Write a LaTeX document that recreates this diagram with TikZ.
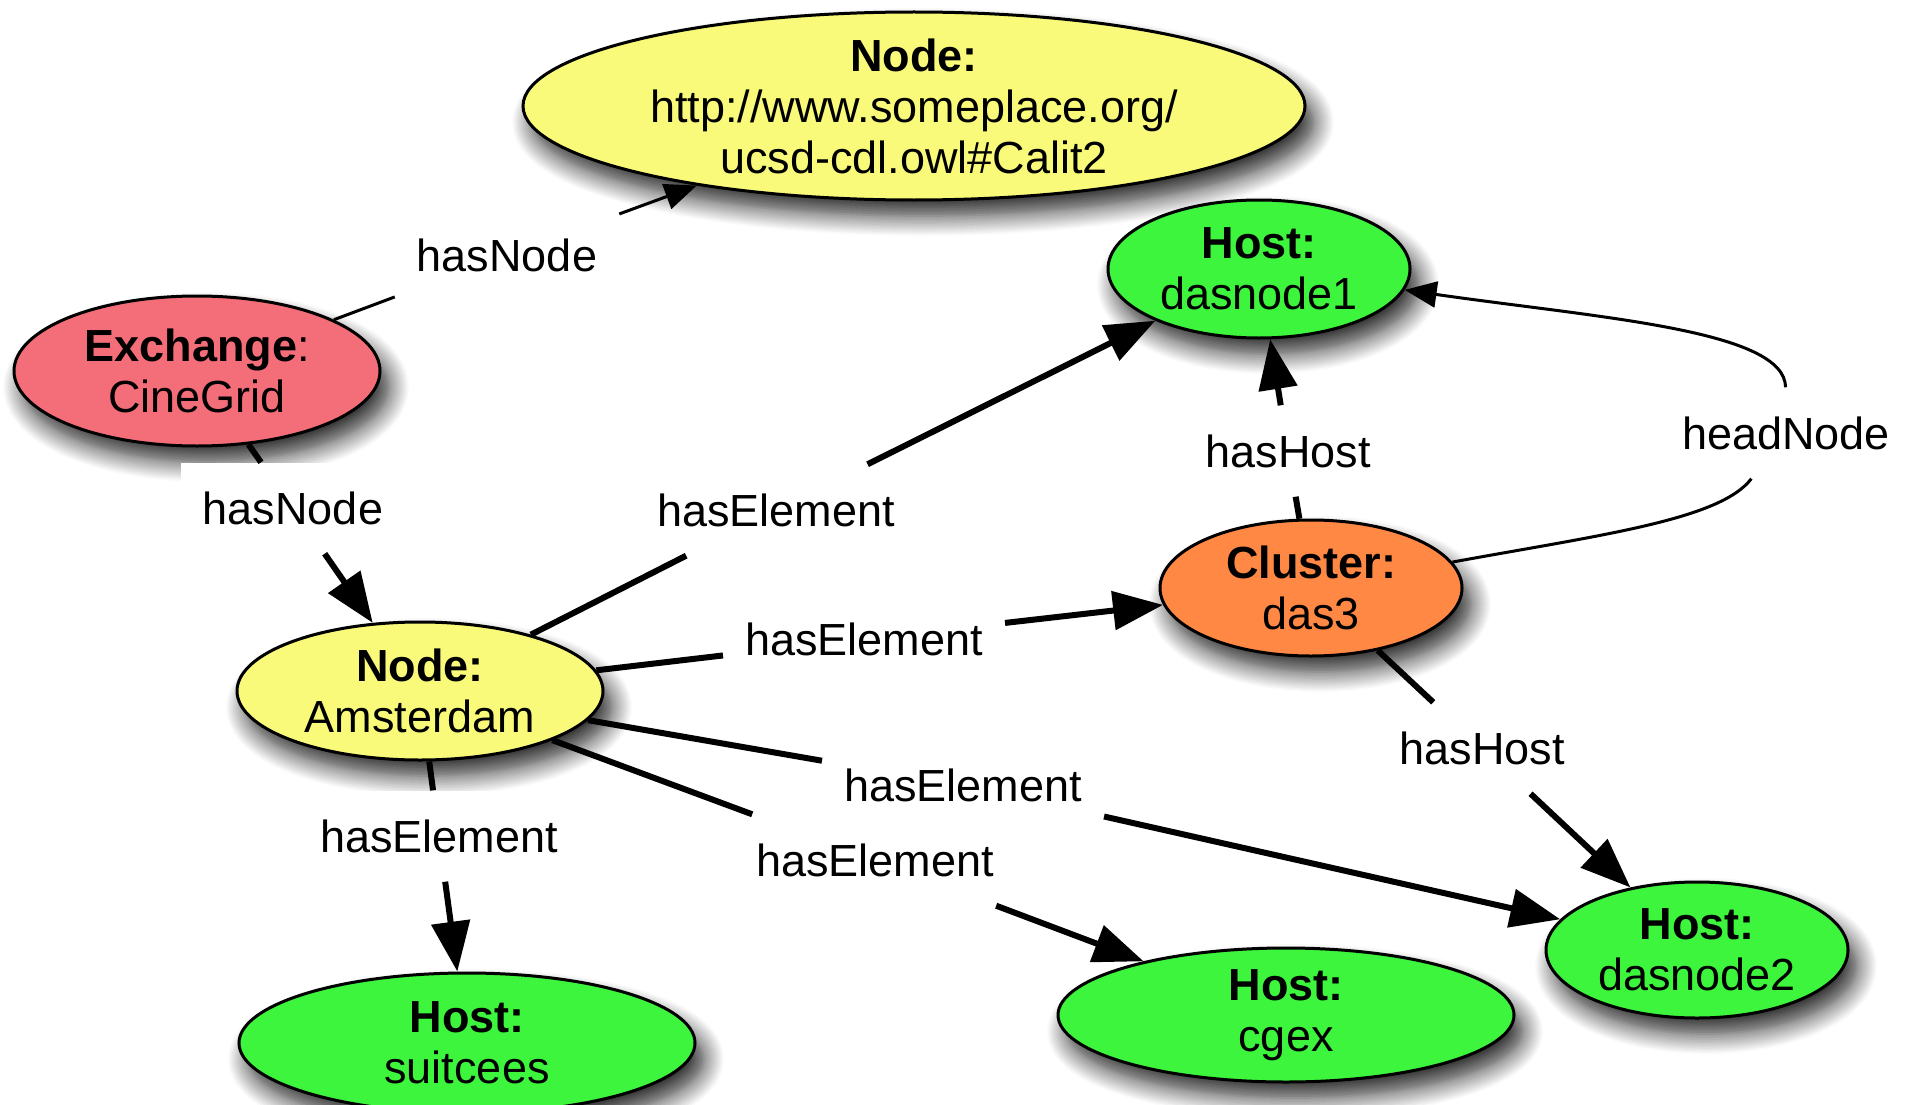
\documentclass[tikz,border=0pt]{standalone}
\usepackage{fontspec}
\setmainfont{Liberation Sans}
\usetikzlibrary{shapes.geometric,arrows.meta,shadows.blur}
\definecolor{yelF}{RGB}{250,250,122}
\definecolor{grnF}{RGB}{60,245,60}
\definecolor{pnkF}{RGB}{244,110,122}
\definecolor{orgF}{RGB}{255,136,68}
\begin{document}
\begin{tikzpicture}[x=1pt,y=-1pt,
  font=\fontsize{45pt}{51pt}\selectfont,
  ellnode/.style={ellipse, draw=black, line width=3pt, inner sep=0pt,
    blur shadow={shadow xshift=9pt, shadow yshift=-16pt, shadow blur radius=20pt, shadow blur steps=12, shadow opacity=85}},
  ntext/.style={align=center, inner sep=0pt},
  lbl/.style={fill=white, inner xsep=22pt, inner ysep=29pt, text height=33pt, text depth=0pt},
  ethick/.style={line width=6pt, draw=black},
  ethin/.style={line width=3pt, draw=black},
  bigarr/.style={-{Triangle[length=50pt,width=38pt]}},
  smallarr/.style={-{Triangle[length=32pt,width=26pt]}}
]
\useasboundingbox (0,0) rectangle (1905,1105);
\clip (0,0) rectangle (1905,1105);

% nodes
\node[ellnode, fill=yelF, minimum width=782pt, minimum height=188pt] (top) at (914,106) {};
\node[ntext] (topT) at (top.center) {\textbf{Node:}\\http://www.someplace.org/\\ucsd-cdl.owl\#Calit2};

\node[ellnode, fill=pnkF, minimum width=366pt, minimum height=150pt] (exc) at (197,371) {};
\node[ntext] (excT) at (exc.center) {\textbf{Exchange}:\\CineGrid};

\node[ellnode, fill=grnF, minimum width=302pt, minimum height=138pt] (d1) at (1259,269) {};
\node[ntext] (d1T) at (d1.center) {\textbf{Host:}\\dasnode1};

\node[ellnode, fill=orgF, minimum width=302pt, minimum height=136pt] (clu) at (1311,588) {};
\node[ntext] (cluT) at (clu.center) {\textbf{Cluster:}\\das3};

\node[ellnode, fill=yelF, minimum width=366pt, minimum height=138pt] (ams) at (420,691) {};
\node[ntext] (amsT) at (ams.center) {\textbf{Node:}\\Amsterdam};

\node[ellnode, fill=grnF, minimum width=456pt, minimum height=140pt] (sui) at (467,1043) {};
\node[ntext] (suiT) at (sui.center) {\textbf{Host:}\\suitcees};

\node[ellnode, fill=grnF, minimum width=456pt, minimum height=134pt] (cgx) at (1286,1015) {};
\node[ntext] (cgxT) at (cgx.center) {\textbf{Host:}\\cgex};

\node[ellnode, fill=grnF, minimum width=302pt, minimum height=136pt] (d2) at (1697,950) {};
\node[ntext] (d2T) at (d2.center) {\textbf{Host:}\\dasnode2};

% labels
\node[lbl] (l1) at (507,255) {hasNode};
\node[lbl] (l2) at (293,508) {hasNode};
\node[lbl] (l3) at (776,510) {hasElement};
\node[lbl] (l4) at (1288,451) {hasHost};
\node[lbl] (l5) at (1786,433) {headNode};
\node[lbl] (l6) at (864,639) {hasElement};
\node[lbl] (l7) at (1482,748) {hasHost};
\node[lbl] (l8) at (963,785) {hasElement};
\node[lbl] (l9) at (439,836) {hasElement};
\node[lbl] (l10) at (875,860) {hasElement};

% edges
\draw[ethin] (exc) -- (l1);
\draw[ethin, smallarr] (l1) -- (top);

\draw[ethick] (exc) -- (l2);
\draw[ethick, bigarr] (l2) -- (ams);

\draw[ethick] (ams) -- (l3);
\draw[ethick, bigarr] (l3) -- (d1);

\draw[ethick] (clu) -- (l4);
\draw[ethick, bigarr] (l4) -- (d1);

\draw[ethin] (clu) .. controls (1600,535) and (1720,520) .. (l5);
\draw[ethin, smallarr] (l5) .. controls (1785,330) and (1600,318) .. (d1);

\draw[ethick] (ams) -- (l6);
\draw[ethick, bigarr] (l6) -- (clu);

\draw[ethick] (clu) -- (l7);
\draw[ethick, bigarr] (l7) -- (d2);

\draw[ethick] (ams) -- (l8);
\draw[ethick, bigarr] (l8) -- (d2);

\draw[ethick] (ams) -- (l9);
\draw[ethick, bigarr] (l9) -- (sui);

\draw[ethick] (ams) -- (l10);
\draw[ethick, bigarr] (l10) -- (cgx);
\end{tikzpicture}
\end{document}
